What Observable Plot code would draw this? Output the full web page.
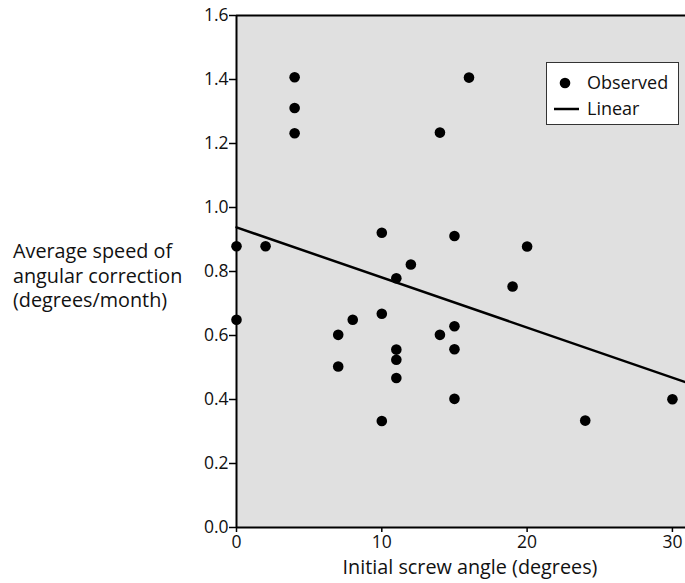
<!DOCTYPE html>
<html>
<head>
<meta charset="utf-8">
<script src="https://cdn.jsdelivr.net/npm/d3@7"></script>
<script src="https://cdn.jsdelivr.net/npm/@observablehq/plot@0.6"></script>
<style>
  html, body { margin: 0; padding: 0; background: #fff; }
  #wrap { position: relative; width: 685px; height: 583px; font-family: "Open Sans", sans-serif; color: #111; }
  #ylab { position: absolute; left: 13px; top: 239px; font-size: 19.8px; line-height: 24.5px; white-space: nowrap; }
  #xlab { position: absolute; left: 300px; width: 340px; text-align: center; top: 553px; font-size: 19.8px; white-space: nowrap; }
  #legend { position: absolute; left: 546px; top: 62px; width: 133px; height: 63px; border: 1px solid #333; background: #fff; box-sizing: border-box; font-size: 18px; }
  #legend .row { position: absolute; left: 0; height: 24px; width: 100%; }
  #legend .lbl { position: absolute; left: 40px; top: 0; line-height: 24px; }
</style>
</head>
<body>
<div id="wrap">
  <div id="chart"></div>
  <div id="ylab">Average speed of<br>angular correction<br>(degrees/month)</div>
  <div id="xlab">Initial screw angle (degrees)</div>
  <div id="legend">
    <div class="row" style="top:7px"><svg width="40" height="24" style="position:absolute;left:0;top:0"><circle cx="18" cy="13" r="5.3" fill="#000"/></svg><span class="lbl">Observed</span></div>
    <div class="row" style="top:33px"><svg width="40" height="24" style="position:absolute;left:0;top:0"><line x1="7" x2="32" y1="13" y2="13" stroke="#000" stroke-width="2.5"/></svg><span class="lbl">Linear</span></div>
  </div>
</div>
<script>
const screwAngle = [0, 0, 2, 4, 4, 4, 7, 7, 8, 10, 10, 10, 11, 11, 11, 11, 12, 14, 14, 15, 15, 15, 15, 16, 19, 20, 24, 30];
const correctionSpeed = [0.879, 0.649, 0.879, 1.407, 1.311, 1.232, 0.602, 0.503, 0.649, 0.921, 0.668, 0.333, 0.779, 0.556, 0.524, 0.467, 0.822, 1.234, 0.602, 0.911, 0.629, 0.557, 0.402, 1.406, 0.753, 0.878, 0.334, 0.401];
const fitX = [0, 30.9];
const fitY = [0.938, 0.454];
const xTicks = [0, 10, 20, 30];
const yTicks = [0, 0.2, 0.4, 0.6, 0.8, 1.0, 1.2, 1.4, 1.6];

const points = screwAngle.map((x, i) => ({x, y: correctionSpeed[i]}));
const fit = fitX.map((x, i) => ({x, y: fitY[i]}));

const chart = Plot.plot({
  width: 685,
  height: 583,
  marginLeft: 236,
  marginRight: 0,
  marginTop: 15,
  marginBottom: 56,
  style: {fontFamily: "'Open Sans', sans-serif", fontSize: "16px", color: "#111", background: "transparent"},
  x: {domain: [0, 30.9], ticks: xTicks, label: null},
  y: {domain: [0, 1.6], ticks: yTicks, label: null, tickFormat: d3.format(".1f")},
  marks: [
    Plot.frame({fill: "#e0e0e0", stroke: null}),
    Plot.axisX({ticks: xTicks, tickSize: 5, tickPadding: 3, stroke: "#000", strokeWidth: 1.5, fontSize: 17.5, fill: "#111", label: null}),
    Plot.axisY({ticks: yTicks, tickSize: 7, tickPadding: 1, stroke: "#000", strokeWidth: 1.5, fontSize: 17.5, fill: "#111", tickFormat: d3.format(".1f"), label: null}),
    Plot.ruleX([0], {stroke: "#000", strokeWidth: 2}),
    Plot.ruleY([0], {stroke: "#000", strokeWidth: 2}),
    Plot.ruleY([1.6], {stroke: "#000", strokeWidth: 2}),
    Plot.line(fit, {x: "x", y: "y", stroke: "#000", strokeWidth: 2.5}),
    Plot.dot(points, {x: "x", y: "y", r: 5.3, fill: "#000", stroke: null})
  ]
});
document.getElementById("chart").appendChild(chart);
</script>
</body>
</html>
